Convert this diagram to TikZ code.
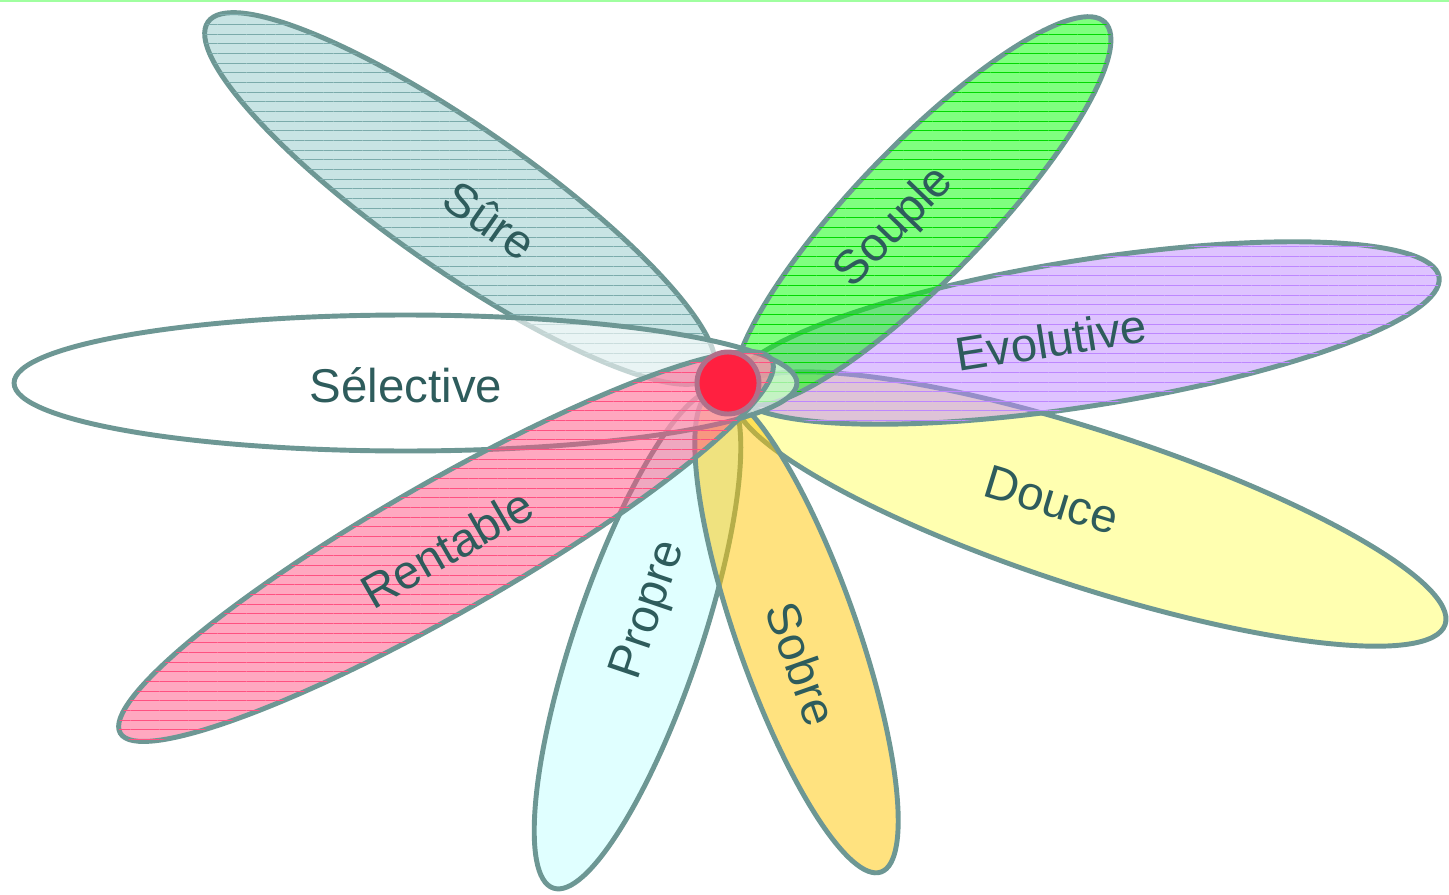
\documentclass[tikz,border=0pt]{standalone}
\usepackage{fontspec}
\setmainfont{Liberation Sans}
\usetikzlibrary{shapes.geometric,patterns.meta}
\definecolor{edge}{HTML}{6D9794}
\definecolor{word}{HTML}{2E5C5C}
\definecolor{sure}{HTML}{91C9C9}
\definecolor{souple}{HTML}{00FF00}
\definecolor{evol}{HTML}{BD87FF}
\definecolor{douce}{HTML}{FFFF61}
\definecolor{sobre}{HTML}{FFC500}
\definecolor{propre}{HTML}{C1FFFF}
\definecolor{rentable}{HTML}{FF5181}
\definecolor{heart}{HTML}{FF2040}
\definecolor{ring}{HTML}{B0708A}
\definecolor{topline}{HTML}{A0FFA0}

\begin{document}
\begin{tikzpicture}[x=0.02cm,y=0.02cm,
  petal/.style={ellipse,draw=edge,line width=2.8pt,inner sep=0pt,fill opacity=0.5},
  lined/.style={postaction={pattern={Lines[angle=0,distance=5.5pt,line width=0.4pt]},pattern color=#1,fill opacity=0.2}},
  word/.style={font=\fontsize{27}{32}\selectfont,text=word,inner sep=0pt}]
\useasboundingbox (0,0) rectangle (1449,894);
\draw[topline,line width=1.2pt] (0,893.4) -- (1449,893.4);

%% petals, back to front
\node[petal,fill=sure,lined=sure!85!black,minimum width=12.31cm,minimum height=2.84cm,rotate=-35] (sure) at (460,695.5) {};
\node[petal,fill=douce,minimum width=14.94cm,minimum height=3.12cm,rotate=-18] (douce) at (1090,385) {};
\node[petal,fill=evol,lined=evol,minimum width=14.3cm,minimum height=2.92cm,rotate=9] (evol) at (1086,561) {};
\node[petal,fill=souple,lined=souple!85!black,minimum width=10.5cm,minimum height=2.64cm,rotate=46] (souple) at (922.5,683) {};
\node[petal,fill=propre,minimum width=10.52cm,minimum height=2.52cm,rotate=71.3] (propre) at (637.5,255) {};
\node[petal,fill=sobre,minimum width=10.18cm,minimum height=2.4cm,rotate=-70.6] (sobre) at (796.5,262) {};
\node[petal,fill=white,fill opacity=0.6,minimum width=15.66cm,minimum height=2.72cm] (select) at (405.5,511) {};
\node[petal,fill=rentable,lined=rentable,minimum width=15.02cm,minimum height=2.6cm,rotate=29.8] (rent) at (446,347.5) {};

%% heart of the flower
\node[circle,draw=ring,line width=2.8pt,fill=heart,minimum size=1.24cm,inner sep=0pt] (core) at (728,511) {};

%% words
\node[word,rotate=-35] (lsure) at (490,674) {Sûre};
\node[word,rotate=46] (lsouple) at (895,666) {Souple};
\node[word,rotate=9] (levol) at (1051,554) {Evolutive};
\node[word] (lselect) at (406,509) {Sélective};
\node[word,rotate=-17] (ldouce) at (1052,394) {Douce};
\node[word,rotate=-70.6] (lsobre) at (802,230) {Sobre};
\node[word,rotate=71.3] (lpropre) at (650,284) {Propre};
\node[word,rotate=30] (lrent) at (447,346) {Rentable};
\end{tikzpicture}
\end{document}
